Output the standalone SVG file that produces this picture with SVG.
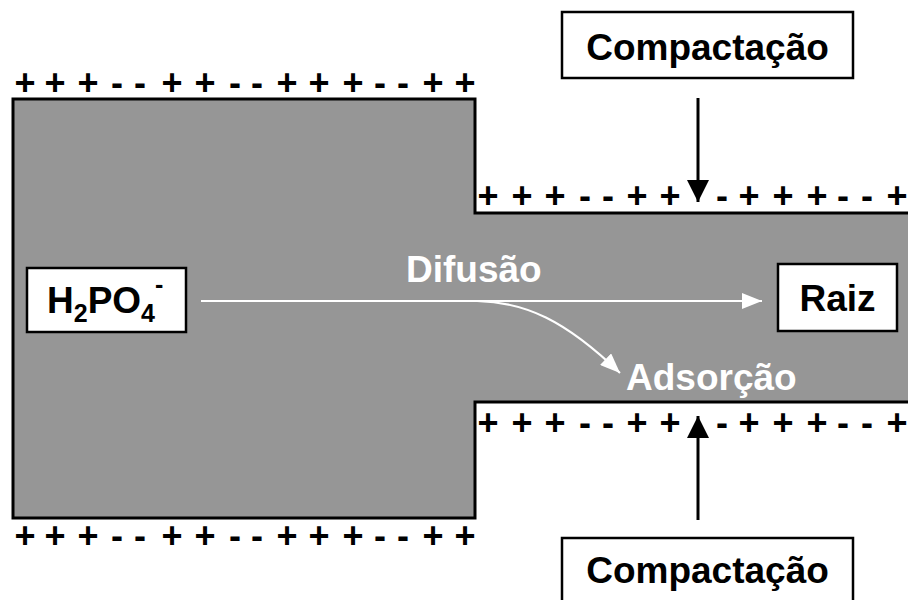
<svg xmlns="http://www.w3.org/2000/svg" width="908" height="600" viewBox="0 0 908 600">
  <style>
    .lbl { font-family: "Liberation Sans", Arial, sans-serif; font-weight: bold; font-size: 37px; }
    .sign { font-family: "Liberation Sans", Arial, sans-serif; font-weight: bold; font-size: 36px; text-anchor: middle; fill: #000; }
    .box { fill: #fff; stroke: #000; stroke-width: 2.5; }
    .wline { fill: none; stroke: #fff; stroke-width: 2; }
    .bline { fill: none; stroke: #000; stroke-width: 3; }
  </style>
  <defs>
    <marker id="headWhite" markerUnits="userSpaceOnUse" markerWidth="22" markerHeight="16" refX="20" refY="8" orient="auto">
      <path d="M0,0 L20,8 L0,16 Z" fill="#fff"/>
    </marker>
    <marker id="headBlack" markerUnits="userSpaceOnUse" markerWidth="24" markerHeight="22" refX="22" refY="11" orient="auto">
      <path d="M0,0 L22,11 L0,22 Z" fill="#000"/>
    </marker>
  </defs>

  <rect width="908" height="600" fill="#fff"/>

  <!-- soil pore: wide chamber narrowing into a compacted channel -->
  <polygon id="pore" points="13,99 475,99 475,213 912,213 912,402 475,402 475,518 13,518"
           fill="#969696" stroke="#000" stroke-width="3"/>

  <!-- surface charges -->
  <g id="charges">
    <text class="sign" y="95" x="25 55 88 117 140 172 205 235 257 287 319 353 380 403 433 465">+++--++--+++--++</text>
    <text class="sign" y="548" x="25 55 88 117 140 172 205 235 257 287 319 353 380 403 433 465">+++--++--+++--++</text>
    <text class="sign" y="208" x="488 522 555 585 608 637 670 722 749 783 817 843 867 897">+++--++-+++--+</text>
    <text class="sign" y="435" x="488 522 555 585 608 637 670 722 749 783 817 843 867 897">+++--++-+++--+</text>
  </g>

  <!-- connectors -->
  <g id="connectors">
    <line id="diffusion" class="wline" x1="201" y1="301" x2="762" y2="301" marker-end="url(#headWhite)"/>
    <path id="adsorption" class="wline" d="M477,301 C525,302 565,320 620,373" marker-end="url(#headWhite)"/>
    <line id="press-top" class="bline" x1="698" y1="98" x2="698" y2="202" marker-end="url(#headBlack)"/>
    <line id="press-bottom" class="bline" x1="698" y1="520" x2="698" y2="416" marker-end="url(#headBlack)"/>
  </g>

  <g id="ion">
    <rect class="box" x="27" y="268" width="159" height="64"/>
    <text class="lbl" y="313"><tspan x="47">H</tspan><tspan font-size="25" dy="9">2</tspan><tspan dy="-9">PO</tspan><tspan font-size="25" dy="9">4</tspan><tspan font-size="25" dy="-29">-</tspan></text>
  </g>

  <g id="root">
    <rect class="box" x="778" y="264" width="119" height="67"/>
    <text class="lbl" x="837.5" y="311" text-anchor="middle">Raiz</text>
  </g>

  <g id="compaction-top">
    <rect class="box" x="562" y="12" width="291" height="66"/>
    <text class="lbl" x="707.5" y="60" text-anchor="middle">Compactação</text>
  </g>

  <g id="compaction-bottom">
    <rect class="box" x="562" y="538" width="291" height="70"/>
    <text class="lbl" x="707.5" y="583" text-anchor="middle">Compactação</text>
  </g>

  <g id="process-labels" fill="#fff">
    <text class="lbl" x="406" y="282">Difusão</text>
    <text class="lbl" x="626" y="390">Adsorção</text>
  </g>
</svg>
